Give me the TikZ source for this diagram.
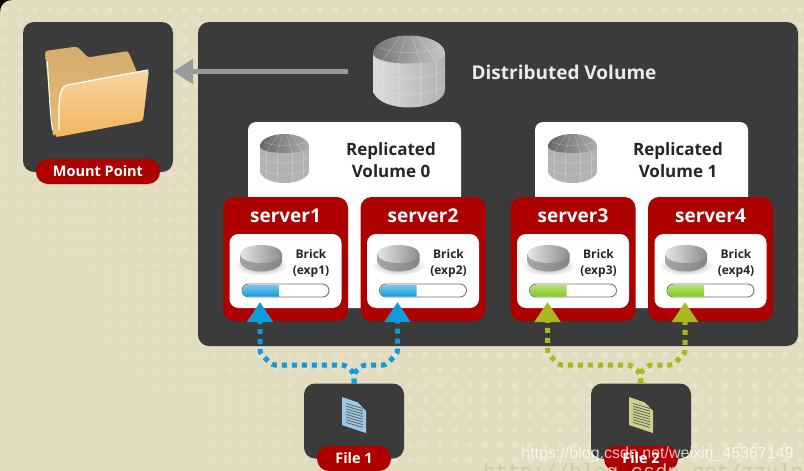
\documentclass[tikz,border=0pt]{standalone}
\usepackage{fontspec}
\setmainfont{Open Sans}
\newfontfamily\markfont{Liberation Sans}
\newfontfamily\stampfont{Liberation Mono}
\usetikzlibrary{arrows.meta,shapes.geometric}
\definecolor{paper}{HTML}{E2DCC0}
\definecolor{paperdot}{HTML}{E9E4CE}
\definecolor{slate}{HTML}{3B3B3B}
\definecolor{brickred}{HTML}{AF0000}
\definecolor{flowblue}{HTML}{0F9ADB}
\definecolor{flowgreen}{HTML}{A9B81E}
\definecolor{gaugegreen}{HTML}{84C91C}
\definecolor{pipe}{HTML}{9A9A9A}
\definecolor{folderback}{HTML}{D4AC6C}
\definecolor{folderbacklow}{HTML}{E9BC74}
\definecolor{folderfront}{HTML}{F7D6A0}
\definecolor{folderfrontlow}{HTML}{F1B45E}
\definecolor{sheetblue}{HTML}{9CC8E6}
\definecolor{sheetgreen}{HTML}{CFD08E}
\tikzset{
  panel/.style={fill=slate,rounded corners=11pt,inner sep=0pt,outer sep=0pt},
  whitebox/.style={fill=white,rounded corners=8pt,inner sep=0pt,outer sep=0pt},
  serverbox/.style={fill=brickred,rounded corners=11pt,inner sep=0pt,outer sep=0pt,minimum width=125pt,minimum height=124pt},
  brickbox/.style={fill=white,rounded corners=9pt,inner sep=0pt,outer sep=0pt,minimum width=112pt,minimum height=74pt},
  pill/.style={fill=brickred,rounded corners=12pt,inner sep=0pt,outer sep=0pt,text=white,font=\bfseries\fontsize{14.5}{14.5}\selectfont},
  servertitle/.style={text=white,font=\bfseries\fontsize{19}{19}\selectfont,inner sep=0pt},
  volumetext/.style={align=center,text=black!85,font=\bfseries\fontsize{17}{22}\selectfont,inner sep=0pt},
  bricktext/.style={align=center,text=black!85,font=\bfseries\fontsize{12}{16}\selectfont,inner sep=0pt},
  flow/.style={line width=5pt,dash pattern=on 5pt off 5pt,rounded corners=3pt,
    -{Triangle[length=20pt,width=25pt]}},
  gaugeshell/.style={draw=black!55,line width=.9pt,fill=white,rounded corners=6.5pt,inner sep=0pt,outer sep=0pt,minimum width=87pt,minimum height=13pt},
  gridline/.style={draw=white,opacity=.25,line width=.6pt},
  drum/.pic={
    % side wall
    \path[left color=drumsideL,middle color=drumsideM,right color=drumsideR]
      (-36,-18) -- (-36,18) .. controls (-36,28) and (-20,36) .. (0,36)
      .. controls (20,36) and (36,28) .. (36,18) -- (36,-18) -- cycle;
    % domed lid
    \path[left color=drumtopL,right color=drumtopR]
      (-36,-18) .. controls (-36,-28) and (-20,-36) .. (0,-36)
      .. controls (20,-36) and (36,-28) .. (36,-18)
      .. controls (36,-12) and (20,-8) .. (0,-8)
      .. controls (-20,-8) and (-36,-12) .. (-36,-18) -- cycle;
    % panel seams on the wall
    \foreach \sx/\sb in {-27/30,-11/35,11/35,27/30}
      \draw[gridline] (\sx,-10) -- (\sx,\sb);
    \foreach \dy in {8,24}
      \draw[gridline] (-36,\dy-10) .. controls (-20,\dy+2) and (20,\dy+2) .. (36,\dy-10);
    % panel seams on the lid
    \foreach \sx/\tx in {-27/-9,-11/-3,11/3,27/9}
      \draw[gridline] (\sx,-10) -- (\tx,-35);
    \draw[gridline] (-30,-24) .. controls (-12,-17) and (12,-17) .. (30,-24);
  },
  disc/.pic={
    \shade[inner color=black!40,outer color=white] (0,7) ellipse (27pt and 10pt);
    \path[left color=black!35,middle color=black!62,right color=black!48]
      (-21,-5) -- (-21,3) .. controls (-21,8) and (-12,13) .. (0,13)
      .. controls (12,13) and (21,8) .. (21,3) -- (21,-5) -- cycle;
    \path[left color=black!10,right color=black!45]
      (0,-4.5) ellipse (21pt and 9pt);
  }
}
\begin{document}
\begin{tikzpicture}[x=1pt,y=-1pt]
\useasboundingbox (0,0) rectangle (804,471);
\begin{scope}
\clip (0,0) rectangle (804,471);
\fill[paper] (0,0) rectangle (804,471);
% dotted texture, fading toward the lower left
\foreach \i in {0,...,53}{
  \foreach \j in {0,...,30}{
    \pgfmathsetmacro{\dx}{5+15*\i}
    \pgfmathsetmacro{\dy}{10+15*\j}
    \pgfmathsetmacro{\da}{max(0,min(1,(\dx+(471-\dy)*0.8-100)/400))}
    \fill[paperdot,opacity=\da] (\dx,\dy) circle (3pt);
  }
}
\fill[black] (0,0) -- (12,0) .. controls (5,0) and (0,5) .. (0,12) -- cycle;

% main containers
\node[panel,minimum width=150pt,minimum height=150pt] (mount) at (98,97) {};
\node[panel,minimum width=600pt,minimum height=324pt] (cluster) at (498,184) {};
\node[panel,minimum width=100pt,minimum height=75pt] (filea) at (354,421) {};
\node[panel,minimum width=100pt,minimum height=75pt] (fileb) at (641,421) {};
\node[pill,minimum width=124pt,minimum height=25pt] (mountlabel) at (98,171.5) {Mount Point};
\node[pill,minimum width=74pt,minimum height=25pt] (filealabel) at (354,458.5) {File 1};
\node[pill,minimum width=74pt,minimum height=25pt] (fileblabel) at (641,458.5) {File 2};

% folder: back sheet, rim highlight, front flap
\path[top color=folderback,bottom color=folderbacklow,rounded corners=2.5pt]
  (45,51) -- (77,46.5) -- (88,57.5) -- (128,51) -- (137,72) -- (140,100) -- (60,130) -- (53,136.5) -- cycle;
\draw[white,line width=1pt,line cap=round] (47.5,62) .. controls (49,90) and (50,115) .. (52.5,130);
\path[top color=folderfront,bottom color=folderfrontlow,rounded corners=3pt]
  (54,137) .. controls (60,128) and (56,90) .. (66,85) -- (149,69.5) -- (143,121) -- (60,136.5) -- cycle;
\draw[white,line width=1.2pt,line cap=round] (59,130) .. controls (59,105) and (58,88) .. (67,85) -- (148,70);

% gray link from the distributed volume to the mount point
\coordinate (linkstart) at (348,71.5);
\draw[pipe,line width=5pt,-{Triangle[length=20pt,width=24pt]}] (linkstart) -- (linkstart -| mount.east);

% distributed volume
\colorlet{drumsideL}{black!14}\colorlet{drumsideM}{black!46}\colorlet{drumsideR}{black!30}
\colorlet{drumtopL}{black!55}\colorlet{drumtopR}{black!22}
\pic at (409,71.5) {drum};
\node[text=white!92!black,font=\bfseries\fontsize{19}{20}\selectfont,inner sep=0pt] (distname) at (564,72) {Distributed Volume};

% replicated volumes
\node[whitebox,minimum width=213pt,minimum height=186pt] (repa) at (354.5,215) {};
\node[whitebox,minimum width=213pt,minimum height=186pt] (repb) at (641.5,215) {};
\colorlet{drumsideL}{black!30}\colorlet{drumsideM}{black!52}\colorlet{drumsideR}{black!30}
\colorlet{drumtopL}{black!60}\colorlet{drumtopR}{black!32}
\pic[scale=.68] at (284.5,158.5) {drum};
\pic[scale=.68] at (572.5,158.5) {drum};
\node[volumetext] (repaname) at (391,160) {Replicated\\Volume 0};
\node[volumetext] (repbname) at (678,160) {Replicated\\Volume 1};

% servers and their bricks
\foreach \n/\cx/\ink/\shine in {1/285.5/flowblue/flowblue!55!white,2/423/flowblue/flowblue!55!white,3/573/gaugegreen/gaugegreen!60!white,4/710.5/gaugegreen/gaugegreen!60!white}{
  \node[serverbox] (server\n) at (\cx,259) {};
  \node[servertitle] (title\n) at (\cx,216) {server\n};
  \node[brickbox] (brick\n) at (\cx,271) {};
  \pic at ({\cx-24.5},258.5) {disc};
  \node[bricktext] (bricktext\n) at ({\cx+25.5},263) {Brick\\(exp\n)};
  \node[gaugeshell] (gauge\n) at (\cx,290.5) {};
  \path[top color=\shine,bottom color=\ink]
    ({\cx-6.5},285) -- ({\cx-37},285) .. controls ({\cx-41},285) and ({\cx-43},288) .. ({\cx-43},290.7)
    .. controls ({\cx-43},294) and ({\cx-41},296.5) .. ({\cx-37},296.5) -- ({\cx-6.5},296.5) -- cycle;
}

% data paths from the files to the bricks
\coordinate (ina) at (260,302);
\coordinate (inb) at (397.5,302);
\coordinate (inc) at (547.5,302);
\coordinate (ind) at (685,302);
\draw[flow,flowblue] (filea.north) -- (354,373) -- (345,365) -- (272,365) -- (260,353) -- (ina);
\draw[flow,flowblue] (filea.north) -- (354,373) -- (363,365) -- (386,365) -- (397.5,353) -- (inb);
\draw[flow,flowgreen] (fileb.north) -- (640,373) -- (631,365) -- (559,365) -- (547.5,353) -- (inc);
\draw[flow,flowgreen] (fileb.north) -- (640,373) -- (649,365) -- (673,365) -- (685,353) -- (ind);

% file icons
\foreach \ox/\sheet in {342/sheetblue,629/sheetgreen}{
  \fill[\sheet] (\ox,397) -- (\ox+16,402.5) -- (\ox+24,411) -- (\ox+24,433) -- (\ox,425) -- cycle;
  \foreach \k in {0,...,7}
    \draw[black!65,line width=.7pt] (\ox+4,403.5+2.7*\k) -- (\ox+21,408.5+2.7*\k);
}

% site stamps across the lower right corner
\node[anchor=base west,inner sep=0pt,text=black!9!paper,font=\stampfont\fontsize{20.5}{22}\selectfont] (stampb) at (483,478) {http://blog.csdn.net/zzulp};
\node[anchor=base,inner sep=0pt,text=white,opacity=.75,font=\markfont\fontsize{16}{18}\selectfont] (stampa) at (657.5,458) {https://blog.csdn.net/weixin\_45367149};
\end{scope}
\end{tikzpicture}
\end{document}
